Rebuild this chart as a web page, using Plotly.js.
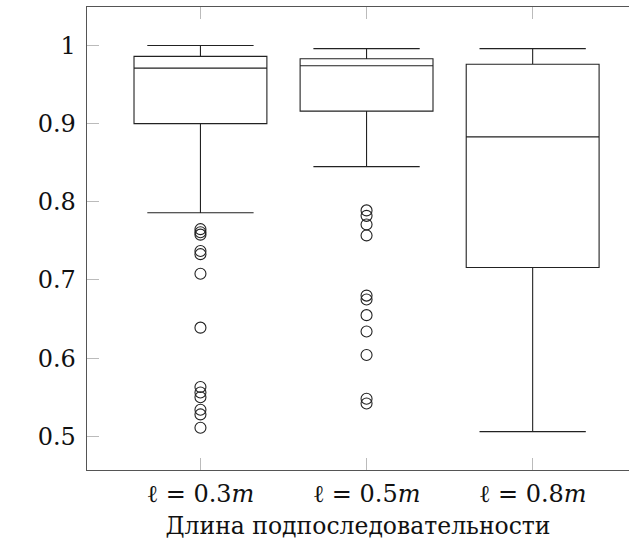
<!DOCTYPE html>
<html>
<head>
<meta charset="utf-8">
<script src="https://cdn.plot.ly/plotly-3.0.1.min.js"></script>
<style>html,body{margin:0;padding:0;background:#fff;}</style>
</head>
<body>
<div id="chart" style="width:629px;height:545px;"></div>
<script>
const categories = ["l03", "l05", "l08"];
const tickLabels = ["ℓ = 0.3<i>m</i>", "ℓ = 0.5<i>m</i>", "ℓ = 0.8<i>m</i>"];
const q1 = [0.900, 0.916, 0.716];
const median = [0.971, 0.974, 0.883];
const q3 = [0.986, 0.983, 0.976];
const lowerFence = [0.786, 0.845, 0.506];
const upperFence = [1.000, 0.996, 0.996];
const outliers03 = [0.765, 0.761, 0.758, 0.737, 0.733, 0.708, 0.639, 0.563, 0.556, 0.550, 0.534, 0.528, 0.511];
const outliers05 = [0.789, 0.782, 0.771, 0.757, 0.680, 0.675, 0.655, 0.634, 0.604, 0.548, 0.542];
const xTitle = "Длина подпоследовательности";
const yTicks = [0.5, 0.6, 0.7, 0.8, 0.9, 1];

const font = "DejaVu Serif";
const ox = [], oy = [];
outliers03.forEach(v => { ox.push(categories[0]); oy.push(v); });
outliers05.forEach(v => { ox.push(categories[1]); oy.push(v); });

const traces = [
  {
    type: "box",
    x: categories,
    q1: q1, median: median, q3: q3,
    lowerfence: lowerFence, upperfence: upperFence,
    boxpoints: false,
    width: 0.8,
    whiskerwidth: 0.8,
    line: {color: "#222", width: 1.1},
    fillcolor: "rgba(0,0,0,0)",
    showlegend: false,
    hoverinfo: "skip"
  },
  {
    type: "scatter",
    mode: "markers",
    x: ox, y: oy,
    marker: {symbol: "circle-open", size: 11, color: "#222", line: {width: 1.1, color: "#222"}},
    showlegend: false,
    hoverinfo: "skip"
  }
];

const layout = {
  width: 629, height: 545,
  margin: {l: 87, r: 0, t: 7, b: 75},
  paper_bgcolor: "#fff", plot_bgcolor: "#fff",
  font: {family: font, size: 24, color: "#111"},
  xaxis: {
    type: "category",
    categoryorder: "array", categoryarray: categories,
    range: [-0.683, 2.58],
    tickmode: "array", tickvals: categories, ticktext: tickLabels,
    ticks: "inside", ticklen: 12, tickwidth: 1, tickcolor: "#bbb",
    showline: true, linecolor: "#555", linewidth: 1.3, mirror: "ticks",
    showgrid: false, zeroline: false,
    ticklabelstandoff: 2,
    title: {text: xTitle, font: {family: font, size: 23.5, color: "#111"}, standoff: 10}
  },
  yaxis: {
    range: [0.4569, 1.0492],
    tickmode: "array", tickvals: yTicks, ticktext: yTicks.map(v => String(v)),
    ticks: "inside", ticklen: 12, tickwidth: 1, tickcolor: "#bbb",
    showline: true, linecolor: "#555", linewidth: 1.3, mirror: false,
    showgrid: false, zeroline: false,
    ticklabelstandoff: 5
  }
};

Plotly.newPlot("chart", traces, layout, {displayModeBar: false, staticPlot: true});
</script>
</body>
</html>
